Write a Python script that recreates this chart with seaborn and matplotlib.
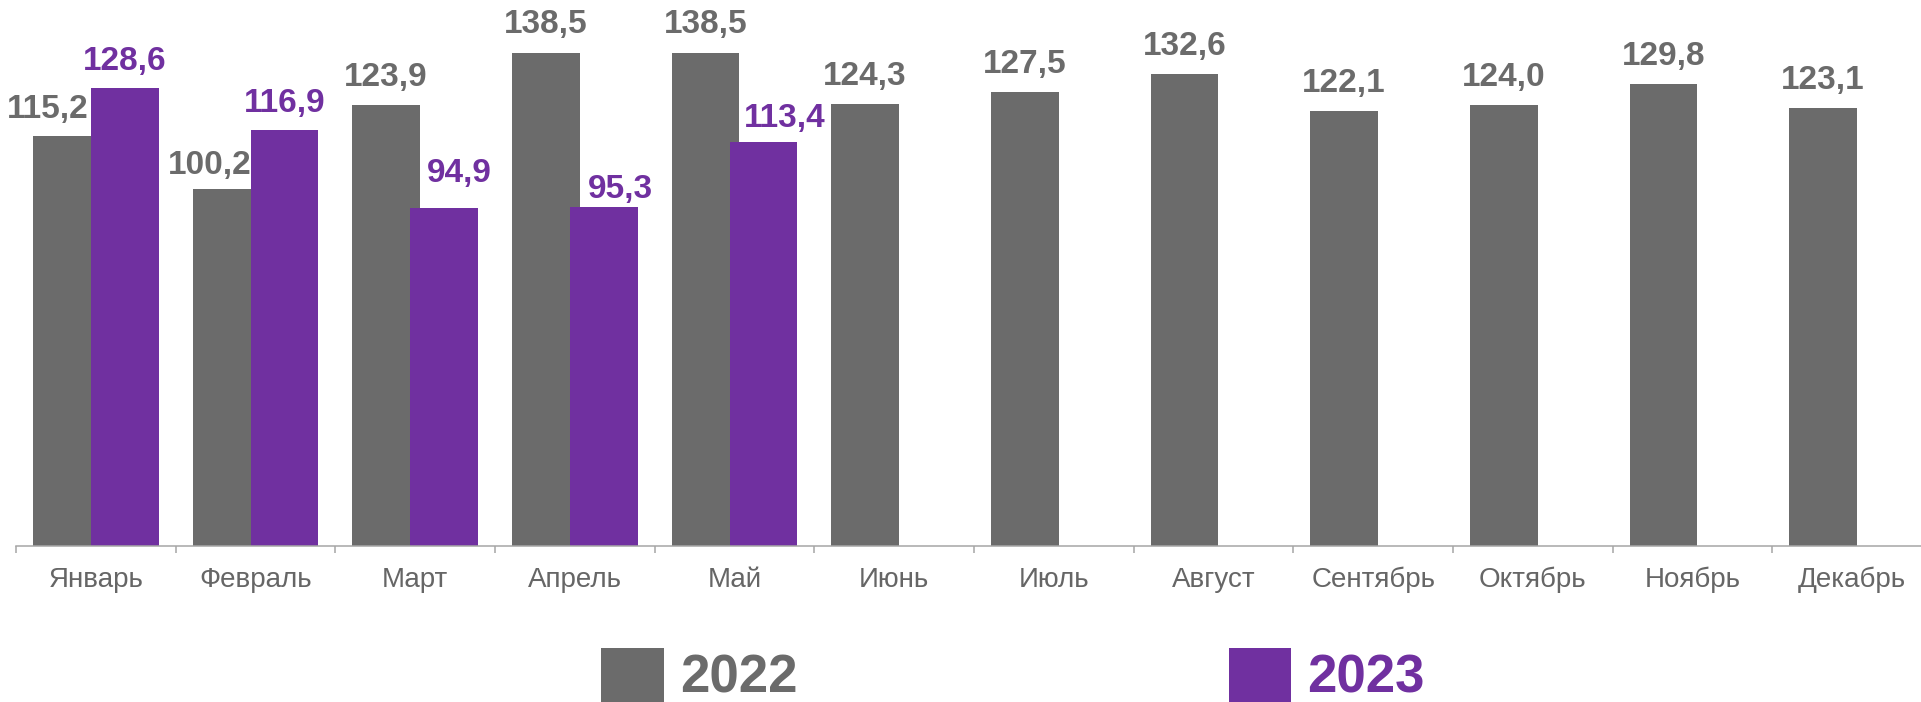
import numpy as np
import pandas as pd
import matplotlib
matplotlib.use("Agg")
import matplotlib.pyplot as plt
import seaborn as sns

# ---- data ----
months = ["Январь", "Февраль", "Март", "Апрель", "Май", "Июнь", "Июль",
          "Август", "Сентябрь", "Октябрь", "Ноябрь", "Декабрь"]
values_2022 = [115.2, 100.2, 123.9, 138.5, 138.5, 124.3, 127.5, 132.6, 122.1, 124.0, 129.8, 123.1]
values_2023 = [128.6, 116.9, 94.9, 95.3, 113.4]
years = ["2022", "2023"]

# ---- style ----
colors = {"2022": "#6b6b6b", "2023": "#7030a0"}
# manual label nudges (pixels): horizontal shift and gap above bar top
label_dx = {"2022": [-19, -17, 0, 0, 0, 0, 0, 0, 0, 0, 0, 0],
            "2023": [0, 0, 15, 17, 21]}
label_gap = {"2022": [18, 15, 19, 20, 20, 19, 19, 19, 19, 19, 19, 19],
             "2023": [18, 18, 26, 9, 15]}

df = pd.DataFrame({
    "month": months * 2,
    "year": ["2022"] * len(months) + ["2023"] * len(months),
    "value": values_2022 + values_2023 + [np.nan] * (len(months) - len(values_2023)),
})

sns.set_style("white")
plt.rcParams["font.family"] = ["Liberation Sans", "DejaVu Sans"]

W, H = 1921, 702
fig = plt.figure(figsize=(W / 100, H / 100), dpi=100)
fig.patch.set_facecolor("white")
ax = fig.add_axes([16 / W, 156 / H, 1916 / W, 546 / H])

sns.barplot(data=df, x="month", y="value", hue="year", order=months,
            hue_order=years, palette=colors, width=0.7265, dodge=True,
            saturation=1, errorbar=None, linewidth=0, ax=ax)

bar_w = 0.4258
for cont, yr in zip(ax.containers, years):
    for bar in cont:
        h = bar.get_height()
        cx = bar.get_x() + bar.get_width() / 2
        bar.set_width(bar_w)
        bar.set_x(cx - bar_w / 2)
        if h is None or np.isnan(h):
            continue
        i = int(round(cx))
        ax.annotate(f"{h:.1f}".replace(".", ","), (cx, h),
                    xytext=(label_dx[yr][i], label_gap[yr][i]),
                    textcoords="offset pixels", ha="center", va="baseline",
                    fontsize=24, fontweight="bold", color=colors[yr],
                    annotation_clip=False)

ax.set_ylim(0, 546 / 3.5596)
ax.set_xlim(-0.5, len(months) - 0.5)
ax.set_yticks([])
ax.set_xlabel("")
ax.set_ylabel("")
for s in ["left", "top", "right"]:
    ax.spines[s].set_visible(False)
ax.spines["bottom"].set_color("#a6a6a6")
ax.spines["bottom"].set_linewidth(1.1)

ax.set_xticks(range(len(months)))
ax.set_xticklabels(months)
ax.set_xticks(np.arange(-0.5, len(months), 1), minor=True)
ax.tick_params(axis="x", which="major", length=0, pad=15, labelsize=20,
               labelcolor="#666666")
ax.tick_params(axis="x", which="minor", bottom=True, length=5, width=1.1,
               color="#a6a6a6", direction="out")

handles, labels = ax.get_legend_handles_labels()
if ax.get_legend() is not None:
    ax.get_legend().remove()
leg = fig.legend(handles, labels, loc="center", bbox_to_anchor=(0.5273, 0.037),
                 ncol=2, frameon=False, prop={"weight": "bold", "size": 38},
                 handlelength=1.19, handleheight=1.19, handletextpad=0.3,
                 columnspacing=8.17, borderpad=0, borderaxespad=0)
for t, yr in zip(leg.get_texts(), labels):
    t.set_color(colors[yr])

fig.savefig("out.png", dpi=100, facecolor="white")
